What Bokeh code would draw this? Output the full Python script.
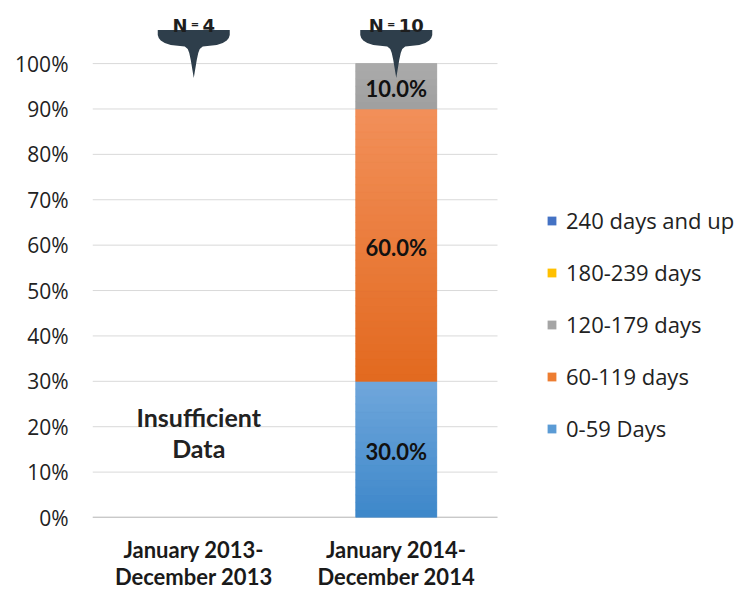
from bokeh.plotting import figure
from bokeh.models import Range1d, FixedTicker, NumeralTickFormatter, Legend, LegendItem
from bokeh.core.properties import value
from bokeh.embed import file_html
from bokeh.resources import INLINE

# ---------------- data ----------------
periods = ["January 2013-\nDecember 2013", "January 2014-\nDecember 2014"]
n_counts = [4, 10]
sufficient = [False, True]
bands = ["0-59 Days", "60-119 days", "120-179 days", "180-239 days", "240 days and up"]
share_0_59 = [0.0, 0.30]
share_60_119 = [0.0, 0.60]
share_120_179 = [0.0, 0.10]
share_180_239 = [0.0, 0.0]
share_240_up = [0.0, 0.0]
series = [share_0_59, share_60_119, share_120_179, share_180_239, share_240_up]
y_ticks = [0.0, 0.1, 0.2, 0.3, 0.4, 0.5, 0.6, 0.7, 0.8, 0.9, 1.0]
insufficient_text = "Insufficient\nData"

# ---------------- style ----------------
colors = ["#5b9bd5", "#ed7d31", "#a5a5a5", "#ffc000", "#4472c4"]
grad_top = ["#70a7dc", "#f2905a", "#ababab", "#ffc000", "#4472c4"]
grad_bot = ["#3d87c9", "#e2691f", "#9f9f9f", "#ffc000", "#4472c4"]
FONT = "Lato"
LFONT = "Open Sans"
W, H = 745, 592
ML, MR, MT, MB = 92, 0, 0, 75
PLOT_W = 405                     # width of the category plotting area (px)
X0 = -0.5
X_AREA_END = 1.5
X1 = X0 + (X_AREA_END - X0) * (W - ML - MR) / PLOT_W
Y0, Y1 = 0.0, 1.139
BAR_W = 0.4
MARKER_TIP = 0.968
MARKER_COLOR = "#2e3e4b"
STRIPS_PER_10PCT = 6

xs = list(range(len(periods)))

p = figure(width=W, height=H, output_backend="svg", toolbar_location=None,
           x_range=Range1d(X0, X1), y_range=Range1d(Y0, Y1),
           min_border_left=ML, min_border_right=MR, min_border_top=MT,
           min_border_bottom=MB, outline_line_color=None)
p.background_fill_color = "white"

frame_w = W - ML - MR
frame_h = H - MT - MB
px_x = frame_w / (X1 - X0)
px_y = frame_h / (Y1 - Y0)

# grid lines restricted to the category area
p.xgrid.visible = False
p.ygrid.visible = False
p.segment(x0=[X0] * len(y_ticks), x1=[X_AREA_END] * len(y_ticks),
          y0=y_ticks, y1=y_ticks, line_color="#d9d9d9", line_width=1)
p.segment(x0=[X0], x1=[X_AREA_END], y0=[Y0], y1=[Y0],
          line_color="#a6a6a6", line_width=1.5)

p.yaxis.ticker = FixedTicker(ticks=y_ticks)
p.yaxis.formatter = NumeralTickFormatter(format="0%")
p.yaxis.axis_line_color = None
p.yaxis.major_tick_line_color = None
p.yaxis.minor_tick_line_color = None
p.yaxis.major_tick_out = 0
p.yaxis.major_label_standoff = 24
p.yaxis.major_label_text_font = LFONT
p.yaxis.major_label_text_font_size = "21px"
p.yaxis.major_label_text_color = "#222222"

p.xaxis.ticker = FixedTicker(ticks=xs)
p.xaxis.major_label_overrides = {i: lab for i, lab in enumerate(periods)}
p.xaxis.axis_line_color = None
p.xaxis.major_tick_line_color = None
p.xaxis.minor_tick_line_color = None
p.xaxis.major_tick_out = 0
p.xaxis.major_label_standoff = 18
p.xaxis.major_label_text_font = FONT
p.xaxis.major_label_text_font_style = "bold"
p.xaxis.major_label_text_font_size = "22px"
p.xaxis.major_label_text_line_height = 1.0
p.xaxis.major_label_text_color = "#1a1a1a"


def mix(c1, c2, t):
    a = [int(c1[i:i + 2], 16) for i in (1, 3, 5)]
    b = [int(c2[i:i + 2], 16) for i in (1, 3, 5)]
    return "#%02x%02x%02x" % tuple(round(x + (y - x) * t) for x, y in zip(a, b))


# stacked bars (base + vertical gradient strips)
renderers = []
bottoms = [0.0] * len(xs)
for name, vals, col, ct, cb in zip(bands, series, colors, grad_top, grad_bot):
    tops = [b + v for b, v in zip(bottoms, vals)]
    r = p.vbar(x=xs, bottom=bottoms, top=tops, width=BAR_W, fill_color=col,
               line_color=None)
    renderers.append((name, r))
    sx, sb, st, sc = [], [], [], []
    for x, b, v in zip(xs, bottoms, vals):
        if v <= 0:
            continue
        n = max(2, round(v * 10 * STRIPS_PER_10PCT))
        for k in range(n):
            sx.append(x)
            sb.append(b + v * k / n)
            st.append(b + v * (k + 1) / n)
            sc.append(mix(cb, ct, (k + 0.5) / n))
    if sx:
        p.vbar(x=sx, bottom=sb, top=st, width=BAR_W, fill_color=sc,
               line_color=sc, line_width=0.6)
    lx, ly, lt = [], [], []
    for x, b, v in zip(xs, bottoms, vals):
        if v > 0:
            lx.append(x)
            ly.append(b + v / 2)
            lt.append(f"{v * 100:.1f}%")
    if lx:
        p.text(x=lx, y=ly, text=lt, text_align="center", text_baseline="middle",
               text_font=value(FONT), text_font_style="bold",
               text_font_size="22px", text_color="#111111", y_offset=2)
    bottoms = tops

# insufficient data text
ix = [x for x, s in zip(xs, sufficient) if not s]
if ix:
    p.text(x=ix, y=[0.187] * len(ix), text=[insufficient_text] * len(ix),
           text_align="center", text_baseline="middle", text_line_height=1.03,
           text_font=value(FONT), text_font_style="bold",
           text_font_size="25px", text_color="#222222", x_offset=5)

# N markers (pin shape)
profile = [(36, 48), (36, 43), (35, 40), (33, 37.5), (29, 35), (23, 33.2),
           (16, 32.3), (9, 31.5), (6, 29), (4.5, 25), (3, 18), (1.5, 9), (0, 0)]
full = profile + [(-dx, dy) for dx, dy in reversed(profile[:-1])]
mx, my = [], []
for x in xs:
    mx.append([x + dx / px_x for dx, dy in full])
    my.append([MARKER_TIP + dy / px_y for dx, dy in full])
p.patches(xs=mx, ys=my, fill_color=MARKER_COLOR, line_color=None)

n_w, eq_w, dig_w, gap = 15, 7, 12.5, 4
for x, n in zip(xs, n_counts):
    total = n_w + gap + eq_w + gap + dig_w * len(str(n))
    start = -total / 2
    base = MARKER_TIP + 53 / px_y
    p.text(x=[x], y=[base], text=["N"], text_align="right", text_baseline="alphabetic",
           x_offset=start + n_w, text_font=value("DejaVu Sans"), text_font_style="bold",
           text_font_size="18px", text_color="#1e1e1e")
    p.text(x=[x], y=[base], text=["="], text_align="center", text_baseline="alphabetic",
           x_offset=start + n_w + gap + eq_w / 2, y_offset=-1,
           text_font=value("DejaVu Sans"), text_font_style="bold",
           text_font_size="10px", text_color="#1e1e1e")
    p.text(x=[x], y=[base], text=[str(n)], text_align="left", text_baseline="alphabetic",
           x_offset=start + n_w + gap + eq_w + gap, text_font=value("DejaVu Sans"),
           text_font_style="bold", text_font_size="18px", text_color="#1e1e1e")

# legend
items = [LegendItem(label=name, renderers=[r]) for name, r in reversed(renderers)]
legend = Legend(items=items, location=(454, 74), orientation="vertical")
legend.border_line_color = None
legend.background_fill_alpha = 0
legend.padding = 0
legend.margin = 0
legend.glyph_width = 11
legend.glyph_height = 11
legend.label_height = 20
legend.spacing = 22
legend.label_standoff = 9
legend.label_text_font = LFONT
legend.label_text_font_size = "22px"
legend.label_text_color = "#222222"
legend.label_text_baseline = "middle"
p.add_layout(legend, "center")

open("out.html", "w").write(file_html(p, INLINE))
